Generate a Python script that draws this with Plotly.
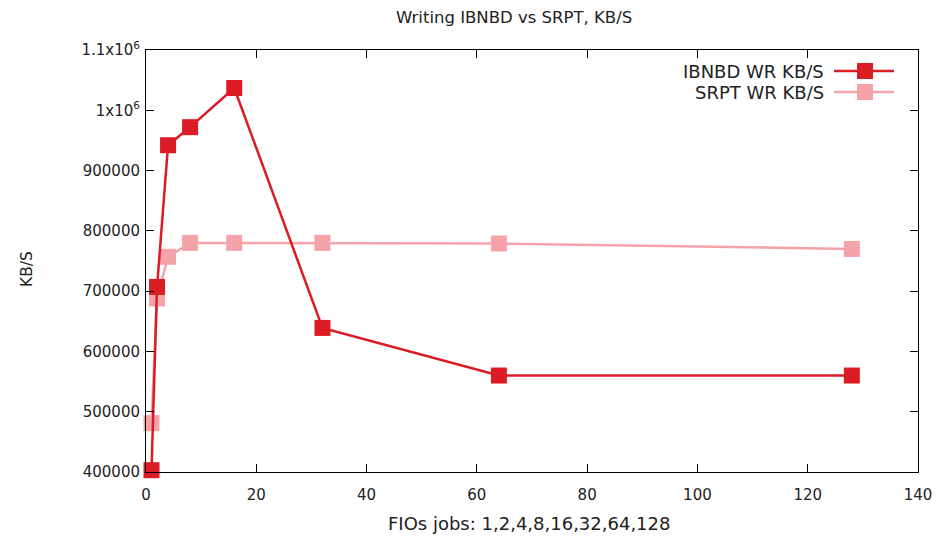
import plotly.graph_objects as go

jobs = [1, 2, 4, 8, 16, 32, 64, 128]
ibnbd_wr = [403000, 707000, 942000, 972000, 1037000, 639000, 560000, 560000]
srpt_wr = [481000, 688000, 757000, 780000, 780000, 780000, 779000, 770000]
series_names = ["IBNBD WR KB/S", "SRPT WR KB/S"]
colors = ["#dc1c24", "#f4a3a8"]
y_tickvals = [400000, 500000, 600000, 700000, 800000, 900000, 1000000, 1100000]
y_ticktext = ["400000", "500000", "600000", "700000", "800000", "900000",
              "1x10<sup>6</sup>", "1.1x10<sup>6</sup>"]
x_tickvals = [0, 20, 40, 60, 80, 100, 120, 140]

# page has an 8px body margin; figure origin sits at (8, 8)
OFF = 8
W, H = 939, 530
L, T = 138, 42
pw, ph = 772, 422
R, B = W - L - pw, H - T - ph

def px(xp):
    return (xp - OFF - L) / pw

def py(yp):
    return 1 - (yp - OFF - T) / ph

FONT = "DejaVu Sans"
TXT = "#222"

fig = go.Figure()
for name, ys, c in [(series_names[1], srpt_wr, colors[1]), (series_names[0], ibnbd_wr, colors[0])]:
    fig.add_trace(go.Scatter(x=jobs, y=ys, mode="lines+markers", name=name,
                             line=dict(color=c, width=2.5),
                             marker=dict(symbol="square", size=16, color=c),
                             showlegend=False, cliponaxis=False))

# manual gnuplot-style legend (text right, sample to the right)
for i, (name, c) in enumerate(zip(series_names, colors)):
    yy = 71 + i * 21
    fig.add_annotation(x=px(825), y=py(yy), xref="paper", yref="paper", text=name,
                       showarrow=False, xanchor="right", yanchor="middle", borderpad=0,
                       font=dict(family=FONT, size=18, color=TXT))
    fig.add_shape(type="line", xref="paper", yref="paper", x0=px(834), x1=px(894),
                  y0=py(yy), y1=py(yy), line=dict(color=c, width=2.5))
    fig.add_shape(type="rect", xref="paper", yref="paper", x0=px(857), x1=px(873),
                  y0=py(yy + 8), y1=py(yy - 8), line=dict(width=0), fillcolor=c)

# titles
fig.add_annotation(x=px(514), y=py(17), xref="paper", yref="paper",
                   text="Writing IBNBD vs SRPT, KB/S", showarrow=False,
                   xanchor="center", yanchor="middle", borderpad=0,
                   font=dict(family=FONT, size=16.5, color=TXT))
fig.add_annotation(x=px(529), y=py(523), xref="paper", yref="paper",
                   text="FIOs jobs: 1,2,4,8,16,32,64,128", showarrow=False,
                   xanchor="center", yanchor="middle", borderpad=0,
                   font=dict(family=FONT, size=18, color=TXT))
fig.add_annotation(x=px(27), y=py(269), xref="paper", yref="paper",
                   text="KB/S", showarrow=False, textangle=-90,
                   xanchor="center", yanchor="middle", borderpad=0,
                   font=dict(family=FONT, size=15.5, color=TXT))

fig.update_layout(
    width=W, height=H,
    margin=dict(l=L, r=R, t=T, b=B),
    paper_bgcolor="white", plot_bgcolor="white",
    font=dict(family=FONT, size=15, color=TXT),
    xaxis=dict(range=[0, 140], tickvals=x_tickvals, ticks="inside", ticklen=8,
               tickcolor="black", showgrid=False, zeroline=False, showline=True,
               linecolor="black", linewidth=1, mirror="ticks", ticklabelstandoff=9),
    yaxis=dict(range=[400000, 1100000], tickvals=y_tickvals, ticktext=y_ticktext,
               ticks="inside", ticklen=8, tickcolor="black", showgrid=False,
               zeroline=False, showline=True, linecolor="black", linewidth=1,
               mirror="ticks", ticklabelstandoff=2),
)
fig.write_html("out.html")
